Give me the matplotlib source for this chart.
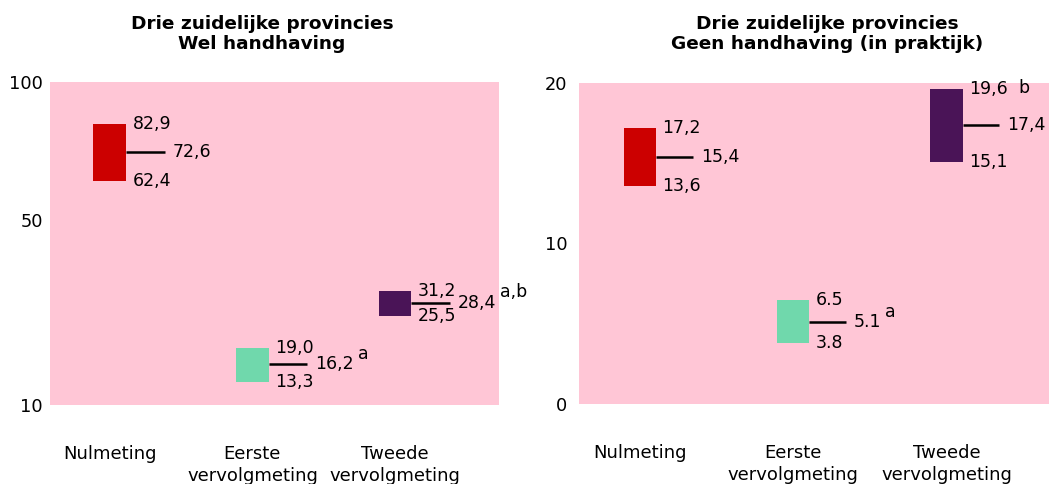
import matplotlib
matplotlib.use("Agg")
import matplotlib.pyplot as plt
import numpy as np

# categories (x axis)
categories = ["Nulmeting", "Eerste\nvervolgmeting", "Tweede\nvervolgmeting"]

# left panel: wel handhaving
wel_low = [62.4, 13.3, 25.5]
wel_mid = [72.6, 16.2, 28.4]
wel_high = [82.9, 19.0, 31.2]
wel_sep = [",", ",", ","]
wel_notes = ["", "a", "a,b"]
wel_note_at = ["mid", "mid", "mid"]
wel_ticks = [10, 50, 100]

# right panel: geen handhaving (in praktijk)
geen_low = [13.6, 3.8, 15.1]
geen_mid = [15.4, 5.1, 17.4]
geen_high = [17.2, 6.5, 19.6]
geen_sep = [",", ".", ","]
geen_notes = ["", "a", "b"]
geen_note_at = ["mid", "mid", "top"]
geen_ticks = [0, 10, 20]

colors = ["#cc0000", "#70d8ac", "#4a1457"]
pink = "#ffc6d6"
FS = 12.5

plt.rcParams["font.family"] = "DejaVu Sans"

W, H = 1049, 484
fig = plt.figure(figsize=(W / 100, H / 100), dpi=100)


def fmt(v, sep):
    return f"{v:.1f}".replace(".", sep)


def panel(rect, low, mid, high, sep, notes, note_at, ticks, xlim, width, linelen,
          ytickpad, sqrt_scale=False):
    ax = fig.add_axes(rect)
    ax.set_facecolor(pink)
    if sqrt_scale:
        # the original left chart is not drawn to a linear scale
        ax.set_yscale("function", functions=(np.sqrt, np.square))
    for s in ax.spines.values():
        s.set_visible(False)
    x = range(len(categories))
    for i in x:
        ax.bar(i, high[i] - low[i], bottom=low[i], width=width, color=colors[i])
        edge = i + width / 2
        ax.plot([edge, edge + linelen], [mid[i], mid[i]], color="black", lw=1.8,
                solid_capstyle="butt")
        t_top = ax.annotate(fmt(high[i], sep[i]), (edge, high[i]), xytext=(4.5, 0),
                            textcoords="offset points", va="center", ha="left", fontsize=FS,
                            annotation_clip=False)
        ax.annotate(fmt(low[i], sep[i]), (edge, low[i]), xytext=(4.5, 0),
                    textcoords="offset points", va="center", ha="left", fontsize=FS,
                    annotation_clip=False)
        t_mid = ax.annotate(fmt(mid[i], sep[i]), (edge + linelen, mid[i]), xytext=(5.5, 0),
                            textcoords="offset points", va="center", ha="left", fontsize=FS,
                            annotation_clip=False)
        if notes[i]:
            if note_at[i] == "top":
                ax.annotate(notes[i], (1, 0.5), xycoords=t_top, xytext=(8, 1),
                            textcoords="offset points", va="center", ha="left", fontsize=FS)
            else:
                ax.annotate(notes[i], (1, 0.5), xycoords=t_mid, xytext=(3, 7.5),
                            textcoords="offset points", va="center", ha="left", fontsize=FS)
    ax.set_xlim(*xlim)
    ax.set_ylim(ticks[0], ticks[-1])
    ax.set_yticks(ticks, labels=[str(t) for t in ticks])
    ax.minorticks_off()
    ax.set_xticks(list(x))
    ax.set_xticklabels(categories, fontsize=13, linespacing=1.25)
    ax.tick_params(axis="x", length=0, pad=29)
    ax.tick_params(axis="y", length=0, pad=ytickpad, labelsize=12.8)
    return ax


panel([50 / W, (H - 405) / H, 449 / W, 323 / H], wel_low, wel_mid, wel_high, wel_sep,
      wel_notes, wel_note_at, wel_ticks, (-0.42, 2.73), 0.23, 0.27, 5, sqrt_scale=True)
panel([579 / W, (H - 404) / H, 470 / W, 321 / H], geen_low, geen_mid, geen_high, geen_sep,
      geen_notes, geen_note_at, geen_ticks, (-0.40, 2.67), 0.21, 0.24, 8.5)

fig.text(262 / W, 1 - 34 / H, "Drie zuidelijke provincies\nWel handhaving",
         ha="center", va="center", fontsize=13.3, fontweight="bold", linespacing=1.1)
fig.text(827 / W, 1 - 34 / H, "Drie zuidelijke provincies\nGeen handhaving (in praktijk)",
         ha="center", va="center", fontsize=13.3, fontweight="bold", linespacing=1.1)

fig.savefig("out.png", dpi=100)
